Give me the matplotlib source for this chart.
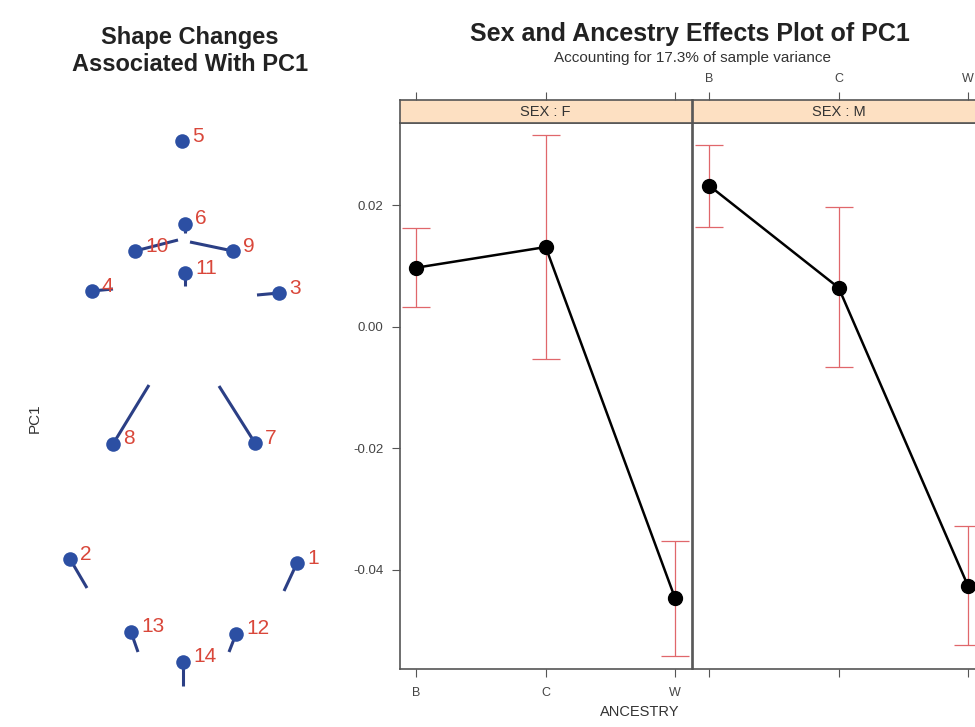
import numpy as np
import matplotlib.pyplot as plt

plt.rcParams['font.family'] = ['Liberation Sans', 'DejaVu Sans']
plt.rcParams['axes.unicode_minus'] = False

# landmark positions (shape panel, image-like coords) and displacement ends
lm_ids = [1, 2, 3, 4, 5, 6, 7, 8, 9, 10, 11, 12, 13, 14]
lm_x = [297, 70, 279, 92, 182, 185, 255, 113, 233, 135, 185, 236, 131, 183]
lm_y = [563, 559, 293, 291, 141, 224, 443, 444, 251, 251, 273, 634, 632, 662]
end_x = [284, 87, 257, 113, 182, 185, 219, 149, 190, 178, 185, 229, 138, 183]
end_y = [591, 588, 295, 289, 141, 233, 386, 385, 242, 240, 286, 652, 652, 686]

# effects data
ancestry = ['B', 'C', 'W']
sexes = ['F', 'M']
fit = {'F': [0.0097, 0.0131, -0.0447], 'M': [0.0232, 0.0064, -0.0427]}
lower = {'F': [0.0033, -0.0053, -0.0542], 'M': [0.0164, -0.0067, -0.0523]}
upper = {'F': [0.0163, 0.0316, -0.0353], 'M': [0.0299, 0.0197, -0.0327]}
yticks = [-0.04, -0.02, 0.00, 0.02]

W, H = 975, 727
fig = plt.figure(figsize=(W / 100, H / 100), dpi=100)

# ---- shape change panel
ax0 = fig.add_axes([0, 0, 330 / W, 1])
ax0.set_xlim(0, 330)
ax0.set_ylim(H, 0)
ax0.axis('off')
for i in range(len(lm_ids)):
    ax0.plot([lm_x[i], end_x[i]], [lm_y[i], end_y[i]], color='#2b3f85', lw=2.2,
             solid_capstyle='butt', zorder=2)
ax0.scatter(lm_x, lm_y, s=110, color='#2c4fa3', zorder=3, linewidths=0)
for i, n in enumerate(lm_ids):
    ax0.annotate(str(n), (lm_x[i], lm_y[i]), xytext=(10, 5), textcoords='offset pixels',
                 ha='left', va='center', color='#d9473a', fontsize=15, zorder=4)
fig.text(190 / W, 1 - 51 / H, 'Shape Changes\nAssociated With PC1', ha='center',
         va='center', fontsize=17, fontweight='bold', color='#222222', linespacing=1.25)
fig.text(35 / W, 1 - 418 / H, 'PC1', rotation=90, ha='center', va='center',
         fontsize=11, color='#333333')

# ---- effects panels
fig.text(690 / W, 1 - 34 / H, 'Sex and Ancestry Effects Plot of PC1', ha='center',
         va='center', fontsize=18, fontweight='bold', color='#222222')
fig.text(692 / W, 1 - 58 / H, 'Accounting for 17.3% of sample variance', ha='center',
         va='center', fontsize=11, color='#333333')

pw = 292 / W
pb = 1 - 669 / H
ph = (669 - 123) / H
sh = 23 / H
xlim = (0.875, 3.13)
ylim = (-0.0563, 0.0335)
edge = '#555555'
pos = np.arange(1, len(ancestry) + 1)

for k, s in enumerate(sexes):
    left = (400 + k * 293) / W
    ax = fig.add_axes([left, pb, pw, ph])
    ax.errorbar(pos, fit[s],
                yerr=[np.array(fit[s]) - np.array(lower[s]), np.array(upper[s]) - np.array(fit[s])],
                fmt='none', ecolor='#e0676b', elinewidth=0.9, capsize=10, capthick=0.9, zorder=2)
    ax.plot(pos, fit[s], color='black', lw=1.8, marker='o', ms=10, zorder=3)
    ax.set_xlim(*xlim)
    ax.set_ylim(*ylim)
    ax.set_xticks(pos)
    ax.tick_params(axis='x', direction='out', length=6, color=edge, labelsize=9,
                   labelcolor='#444444', pad=7)
    if k == 0:
        ax.set_xticklabels(ancestry)
        ax.set_yticks(yticks)
        ax.set_yticklabels(['%.2f' % v for v in yticks])
        ax.tick_params(axis='y', direction='out', length=6, color=edge, labelsize=9.5,
                       labelcolor='#444444', pad=6)
    else:
        ax.set_xticklabels([])
        ax.set_yticks([])
    for sp in ax.spines.values():
        sp.set_color(edge)
        sp.set_linewidth(1.2)

    sax = fig.add_axes([left, pb + ph, pw, sh])
    sax.set_facecolor('#fde0c2')
    sax.set_xlim(*xlim)
    sax.set_ylim(0, 1)
    sax.set_yticks([])
    sax.set_xticks(pos)
    sax.xaxis.tick_top()
    sax.tick_params(axis='x', direction='out', length=6, color=edge, labelsize=9,
                    labelcolor='#444444', pad=5)
    if k == 1:
        sax.set_xticklabels(ancestry)
    else:
        sax.set_xticklabels([])
    sax.text(2, 0.5, 'SEX : ' + s, ha='center', va='center', fontsize=10.5, color='#333333')
    for sp in sax.spines.values():
        sp.set_color(edge)
        sp.set_linewidth(1.2)

fig.text(640 / W, 1 - 712 / H, 'ANCESTRY', ha='center', va='center', fontsize=10.5,
         color='#333333')

fig.savefig('out.png', dpi=100)
